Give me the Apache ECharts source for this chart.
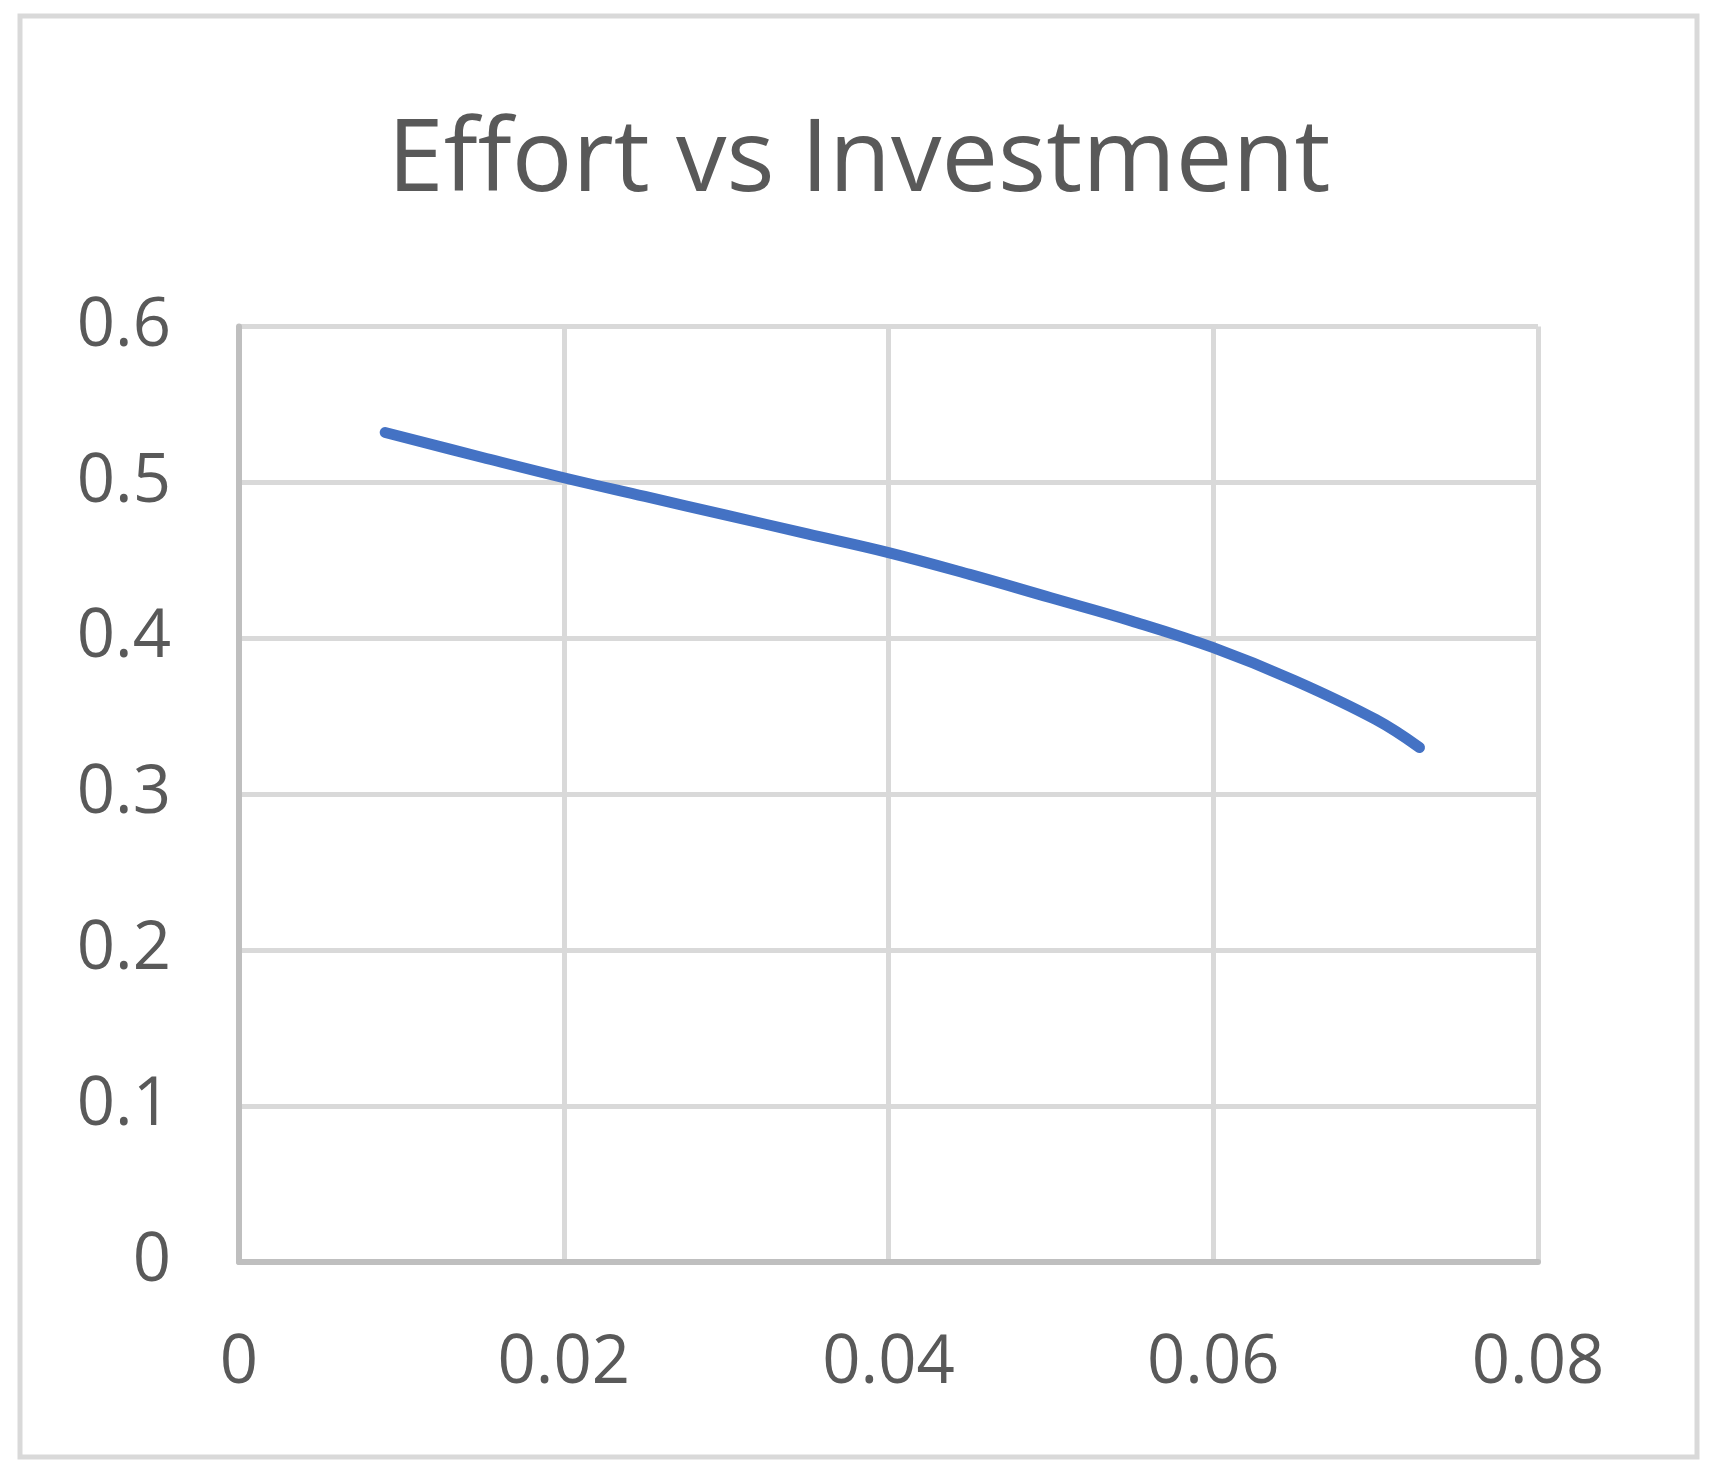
<!DOCTYPE html>
<html>
<head>
<meta charset="utf-8">
<script src="https://cdn.jsdelivr.net/npm/echarts@6/dist/echarts.min.js"></script>
<style>html,body{margin:0;padding:0;background:#fff;}#c{width:1718px;height:1481px;}</style>
</head>
<body>
<div id="c"></div>
<script>
const titleText = "Effort vs Investment";
const investment = [0.009, 0.015, 0.02, 0.025, 0.03, 0.035, 0.04, 0.045, 0.05, 0.055, 0.06, 0.065, 0.07, 0.0727];
const effort = [0.532, 0.516, 0.503, 0.491, 0.479, 0.467, 0.455, 0.441, 0.426, 0.411, 0.394, 0.373, 0.348, 0.330];
const xTicks = [0, 0.02, 0.04, 0.06, 0.08];
const yTicks = [0, 0.1, 0.2, 0.3, 0.4, 0.5, 0.6];

const chart = echarts.init(document.getElementById('c'));
const font = '"Open Sans", sans-serif';
chart.setOption({
  animation: false,
  backgroundColor: '#ffffff',
  title: {
    text: titleText,
    left: 'center',
    top: 107,
    textStyle: { fontFamily: font, fontSize: 101, fontWeight: 'normal', color: '#595959' }
  },
  graphic: [{
    type: 'rect',
    shape: { x: 20, y: 16, width: 1677, height: 1441 },
    style: { fill: 'none', stroke: '#d9d9d9', lineWidth: 5 },
    silent: true
  }],
  grid: { left: 239, right: 180, top: 326.5, bottom: 219, containLabel: false },
  xAxis: {
    type: 'value',
    min: xTicks[0],
    max: xTicks[xTicks.length - 1],
    interval: 0.02,
    axisLine: { show: true, onZero: false, lineStyle: { color: '#bfbfbf', width: 6 } },
    axisTick: { show: false },
    splitLine: { show: true, lineStyle: { color: '#d9d9d9', width: 5 } },
    axisLabel: {
      margin: 68, fontFamily: font, fontSize: 67, color: '#595959',
      formatter: v => { const t = xTicks.find(k => Math.abs(k - v) < 1e-9); return t === undefined ? '' : String(t); }
    }
  },
  yAxis: {
    type: 'value',
    min: yTicks[0],
    max: yTicks[yTicks.length - 1],
    interval: 0.1,
    axisLine: { show: true, lineStyle: { color: '#bfbfbf', width: 6 } },
    axisTick: { show: false },
    splitLine: { show: true, lineStyle: { color: '#d9d9d9', width: 5 } },
    axisLabel: {
      margin: 68, fontFamily: font, fontSize: 67, color: '#595959',
      formatter: v => { const t = yTicks.find(k => Math.abs(k - v) < 1e-9); return t === undefined ? '' : String(t); }
    }
  },
  series: [{
    type: 'line',
    data: investment.map((x, i) => [x, effort[i]]),
    smooth: 0.4,
    showSymbol: false,
    lineStyle: { color: '#4472c4', width: 11, cap: 'round', join: 'round' },
    z: 5
  }]
});
</script>
</body>
</html>
